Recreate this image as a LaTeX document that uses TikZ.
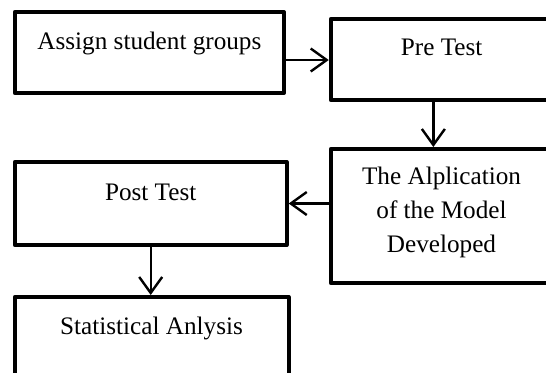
\documentclass[tikz,border=0pt]{standalone}
\usepackage{fontspec}
\setmainfont{Liberation Serif}
\usetikzlibrary{arrows.meta,positioning}

\begin{document}
\begin{tikzpicture}[
    x=0.5pt, y=-0.5pt,
    box/.style={rectangle, draw, line width=2pt, line join=round, inner sep=0pt},
    boxtext/.style={font=\fontsize{12.6pt}{17pt}\selectfont, align=center, anchor=base, inner sep=0pt},
    arrow/.style={-{Straight Barb[length=8pt,width=11.5pt]}, line width=1.2pt}
]
    \clip (0,0) rectangle (546,372);

    % boxes
    \node[box, minimum width=134.65pt, minimum height=40.5pt] (assign) at (149.4,52.5) {};
    \node[box, minimum width=134.65pt, minimum height=40.5pt] (pre) at (465.4,59.5) {};
    \node[box, minimum width=134.65pt, minimum height=67pt] (apply) at (465.4,216) {};
    \node[box, minimum width=136pt, minimum height=41.5pt] (post) at (150.7,203.5) {};
    \node[box, minimum width=137pt, minimum height=53pt] (stat) at (151.7,350) {};

    % texts
    \node[boxtext] (assigntext) at (149.4,49) {Assign student groups};
    \node[boxtext] (pretext) at (441.7,55) {Pre Test};
    \node[boxtext] (applytext) at (441.5,252.7) {The Alplication\\of the Model\\Developed};
    \node[boxtext] (posttext) at (150.7,200) {Post Test};
    \node[boxtext] (stattext) at (151.5,334) {Statistical Anlysis};

    \draw[arrow] ([yshift=-3.75pt]assign.east) -- ([yshift=-3.75pt]assign.east -| pre.west);
    \draw[arrow] ([xshift=52.3pt]pre.south west) -- ([xshift=52.3pt]pre.south west |- apply.north);
    \draw[arrow] (apply.west |- post.east) -- (post.east);
    \draw[arrow] (post.south) -- (post.south |- stat.north);
\end{tikzpicture}
\end{document}
